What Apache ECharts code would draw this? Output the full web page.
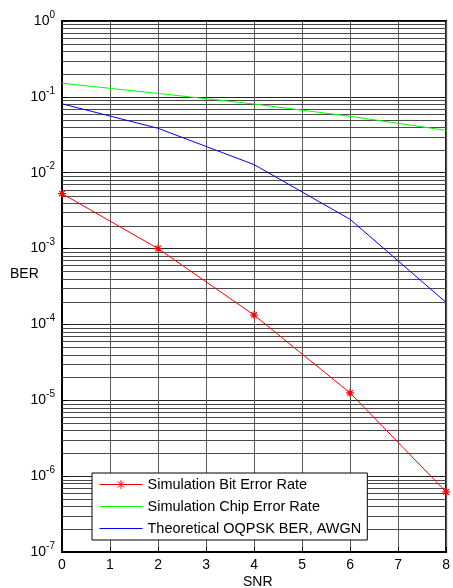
<!DOCTYPE html>
<html><head><meta charset="utf-8">
<script src="https://cdn.jsdelivr.net/npm/echarts@6/dist/echarts.min.js"></script>
<style>html,body{margin:0;padding:0;background:#fff}#c{width:453px;height:588px}</style>
</head><body><div id="c"></div>
<script>
// ---- data ----
const snr = [0, 2, 4, 6, 8];
const bitErrorRate = [5.3e-3, 1.0e-3, 1.33e-4, 1.25e-5, 6.2e-7];
const chipErrorRate = [0.151, 0.111, 0.0805, 0.0554, 0.0362];
const theoreticalBer = [0.081, 0.0385, 0.0128, 2.43e-3, 1.95e-4];
const seriesNames = ['Simulation Bit Error Rate', 'Simulation Chip Error Rate', 'Theoretical OQPSK BER, AWGN'];
const xTickValues = [0, 1, 2, 3, 4, 5, 6, 7, 8];
const yDecadeExponents = [-7, -6, -5, -4, -3, -2, -1, 0];
const minorMultipliers = [2, 3, 4, 5, 6, 7, 8, 9];

const FONT = 'Liberation Sans, Arial, sans-serif';
const X_MIN = xTickValues[0], X_MAX = xTickValues[xTickValues.length - 1];
const pairs = (ys) => snr.map((x, i) => [x, ys[i]]);

const minorGridValues = [];
yDecadeExponents.slice(0, -1).forEach(e => {
  minorMultipliers.forEach(m => minorGridValues.push(m * Math.pow(10, e)));
});

const asterisk = 'path://M5,0L5,10M0,5L10,5M1.5,1.5L8.5,8.5M1.5,8.5L8.5,1.5';
const lineIcon = 'path://M0,0L43,0L43,1L0,1Z';

const chart = echarts.init(document.getElementById('c'), null, { renderer: 'canvas' });
chart.setOption({
  animation: false,
  backgroundColor: '#fff',
  grid: { left: 62, right: 1, top: 21, bottom: 36, show: true, borderColor: '#000', borderWidth: 2, backgroundColor: 'transparent' },
  xAxis: {
    type: 'value', min: X_MIN, max: X_MAX, interval: 1,
    axisLine: { show: true, onZero: false, lineStyle: { color: '#000', width: 2 } },
    axisTick: { show: true, inside: true, length: 5, lineStyle: { color: '#000' } },
    axisLabel: { color: '#000', fontSize: 14, fontFamily: FONT, margin: 6 },
    splitLine: { show: true, lineStyle: { color: '#5a5a5a', width: 1 } }
  },
  yAxis: {
    type: 'log', logBase: 10,
    min: Math.pow(10, yDecadeExponents[0]), max: Math.pow(10, yDecadeExponents[yDecadeExponents.length - 1]),
    splitNumber: 7,
    axisLine: { show: true, lineStyle: { color: '#000', width: 2 } },
    axisTick: { show: true, inside: true, length: 5, lineStyle: { color: '#000' } },
    axisLabel: {
      margin: 7, fontFamily: FONT,
      formatter: (v) => '{b|10}{s|' + Math.round(Math.log10(v)) + '}',
      rich: {
        b: { fontSize: 14, lineHeight: 22, color: '#000', fontFamily: FONT },
        s: { fontSize: 10, lineHeight: 10, verticalAlign: 'top', color: '#000', fontFamily: FONT }
      }
    },
    splitLine: { show: true, lineStyle: { color: '#222', width: 1 } }
  },
  legend: {
    data: [
      { name: seriesNames[0] },
      { name: seriesNames[1], icon: lineIcon },
      { name: seriesNames[2], icon: lineIcon }
    ],
    orient: 'vertical', left: 92, top: 473,
    itemWidth: 43, itemHeight: 11, itemGap: 7,
    padding: [4, 6, 4, 7],
    borderColor: '#000', borderWidth: 1, backgroundColor: '#fff',
    lineStyle: { width: 1 },
    itemStyle: { borderWidth: 1 },
    textStyle: { fontSize: 14.5, color: '#000', fontFamily: FONT },
    z: 10
  },
  graphic: [
    { type: 'text', left: 10, top: 267, style: { text: 'BER', fill: '#000', font: '14px ' + FONT } },
    { type: 'text', left: 243, top: 575, style: { text: 'SNR', fill: '#000', font: '14px ' + FONT } }
  ],
  series: [
    {
      name: '__minorGrid', type: 'custom', z: 1, silent: true,
      data: minorGridValues.map(v => [X_MIN, v]),
      renderItem: (params, api) => {
        const v = api.value(1);
        const p0 = api.coord([X_MIN, v]);
        const p1 = api.coord([X_MAX, v]);
        const y = Math.round(p0[1]) + 0.5;
        return { type: 'line', shape: { x1: p0[0], y1: y, x2: p1[0], y2: y }, style: { stroke: '#4a4a4a', lineWidth: 1 } };
      }
    },
    {
      name: seriesNames[0], type: 'line', data: pairs(bitErrorRate), z: 5,
      symbol: asterisk, symbolSize: 8, showSymbol: true,
      lineStyle: { color: '#ff0000', width: 1 },
      itemStyle: { color: '#ff0000', borderColor: '#ff0000', borderWidth: 1.2 }
    },
    {
      name: seriesNames[1], type: 'line', data: pairs(chipErrorRate), z: 5,
      symbol: 'none', lineStyle: { color: '#00ff00', width: 1 }, itemStyle: { color: '#00ff00' }
    },
    {
      name: seriesNames[2], type: 'line', data: pairs(theoreticalBer), z: 5,
      symbol: 'none', lineStyle: { color: '#0000ff', width: 1 }, itemStyle: { color: '#0000ff' }
    }
  ]
});
</script></body></html>
